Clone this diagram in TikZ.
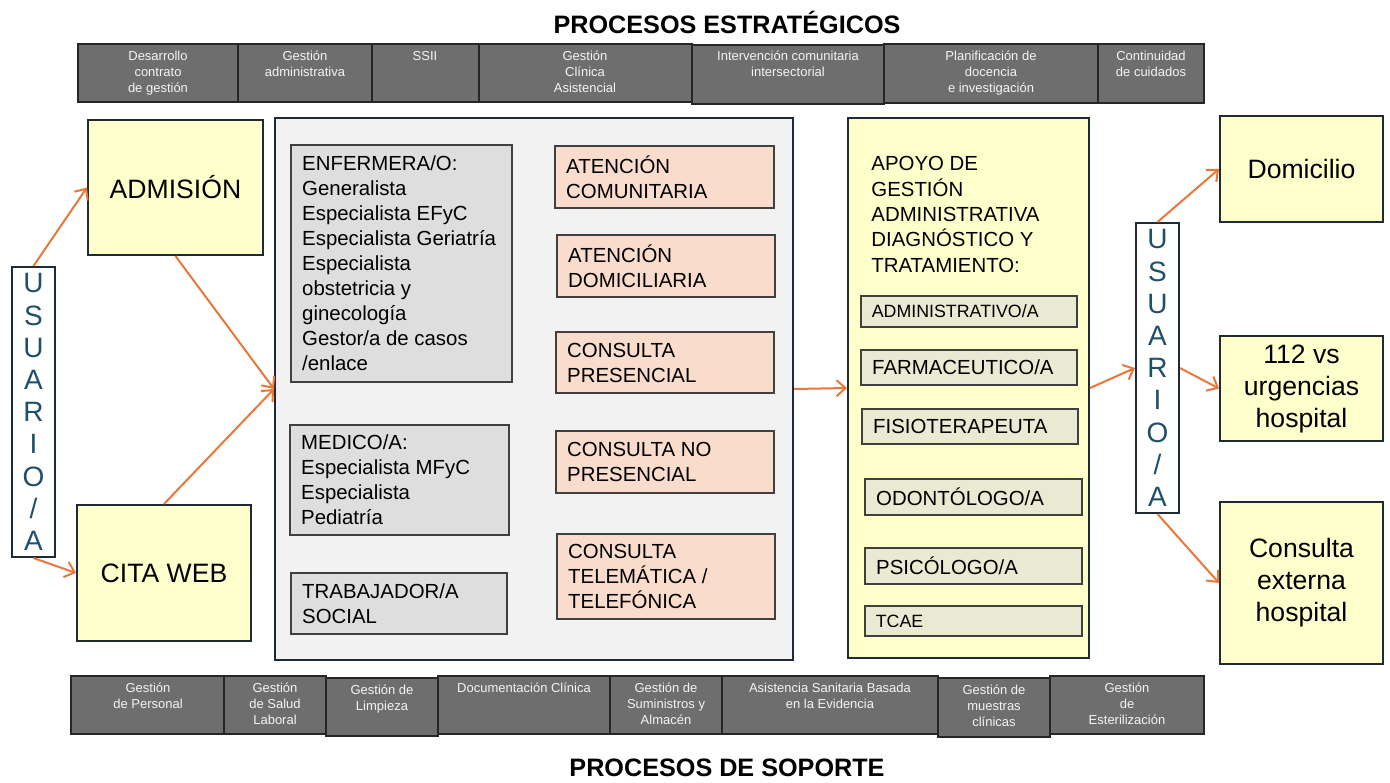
\documentclass[tikz,border=0pt]{standalone}
\usepackage{fontspec}
\setmainfont{Liberation Sans}
\usetikzlibrary{arrows.meta,fit}
\definecolor{orng}{HTML}{E9773A}
\definecolor{navy}{HTML}{1E2A36}
\definecolor{ylw}{HTML}{FFFFCC}
\definecolor{lgray}{HTML}{F2F2F2}
\definecolor{gfill}{HTML}{DEDEDE}
\definecolor{gline}{HTML}{404040}
\definecolor{salmon}{HTML}{F9DCCB}
\definecolor{beige}{HTML}{EAEAD2}
\definecolor{barfill}{HTML}{6E6E6E}
\definecolor{barline}{HTML}{262626}
\definecolor{bartxt}{HTML}{F4F4F4}
\definecolor{uteal}{HTML}{1F5068}
\begin{document}
\begin{tikzpicture}[x=0.5pt,y=-0.5pt,
  barcell/.style={draw=barline, fill=barfill, line width=0.7pt, inner sep=0pt},
  bartext/.style={text=bartxt, font=\fontsize{6.5}{8}\selectfont, align=center, anchor=north, inner sep=0pt},
  ybox/.style={draw=navy, fill=ylw, line width=1pt, inner sep=0pt},
  bigbox/.style={draw=navy, fill=lgray, line width=1pt, inner sep=0pt},
  gbox/.style={draw=gline, fill=gfill, line width=0.6pt, inner sep=0pt},
  sbox/.style={draw=gline, fill=salmon, line width=0.6pt, inner sep=0pt},
  abox/.style={draw=gline, fill=beige, line width=0.6pt, inner sep=0pt},
  ubox/.style={draw=navy, fill=white, line width=1pt, inner sep=0pt},
  mtxt/.style={font=\fontsize{10.2}{12.5}\selectfont, align=left, anchor=west, inner sep=0pt, xshift=5.7pt},
  smtxt/.style={font=\fontsize{8.9}{10}\selectfont, align=left, anchor=west, inner sep=0pt, xshift=5.5pt},
  bigtxt/.style={font=\fontsize{13.3}{16}\selectfont, align=center, inner sep=0pt},
  utxt/.style={font=\fontsize{14}{16.1}\selectfont, text=uteal, align=center, inner sep=0pt},
  ttl/.style={font=\fontsize{12.6}{14}\selectfont\bfseries, inner sep=0pt},
  arr/.style={draw=orng, line width=1pt, -{Straight Barb[length=4.5pt,width=8pt]}}
]
\useasboundingbox (0,0) rectangle (1390,782);

% titles
\node[ttl] (t1) at (727,22) {PROCESOS ESTRATÉGICOS};
\node[ttl] (t2) at (727,768) {PROCESOS DE SOPORTE};

% top bar
\node[barcell, fit={(78,44)(238,102)}] (c1) {};
\node[barcell, fit={(238,44)(372,102)}] (c2) {};
\node[barcell, fit={(372,44)(479,102)}] (c3) {};
\node[barcell, fit={(479,44)(692,102)}] (c4) {};
\node[barcell, fit={(692,45)(884,104)}] (c5) {};
\node[barcell, fit={(884,44)(1098,103)}] (c6) {};
\node[barcell, fit={(1098,44)(1204,103)}] (c7) {};
\node[bartext] (c1t) at (158,51) {Desarrollo\\contrato\\de gestión};
\node[bartext] (c2t) at (305,51) {Gestión\\administrativa};
\node[bartext] (c3t) at (425,51) {SSII};
\node[bartext] (c4t) at (585,51) {Gestión\\Clínica\\Asistencial};
\node[bartext] (c5t) at (788,51) {Intervención comunitaria\\intersectorial};
\node[bartext] (c6t) at (991,51) {Planificación de\\docencia\\e investigación};
\node[bartext] (c7t) at (1151,51) {Continuidad\\de cuidados};

% bottom bar
\node[barcell, fit={(71,676)(224,734)}] (b1) {};
\node[barcell, fit={(224,676)(326,734)}] (b2) {};
\node[barcell, fit={(326,678)(438,736)}] (b3) {};
\node[barcell, fit={(438,676)(610,734)}] (b4) {};
\node[barcell, fit={(610,676)(722,734)}] (b5) {};
\node[barcell, fit={(722,676)(938,734)}] (b6) {};
\node[barcell, fit={(938,678)(1050,737)}] (b7) {};
\node[barcell, fit={(1050,676)(1204,734)}] (b8) {};
\node[bartext] (b1t) at (148,683) {Gestión\\de Personal};
\node[bartext] (b2t) at (275,683) {Gestión\\de Salud\\Laboral};
\node[bartext] (b3t) at (382,685) {Gestión de\\Limpieza};
\node[bartext] (b4t) at (524,683) {Documentación Clínica};
\node[bartext] (b5t) at (666,683) {Gestión de\\Suministros y\\Almacén};
\node[bartext] (b6t) at (830,683) {Asistencia Sanitaria Basada\\en la Evidencia};
\node[bartext] (b7t) at (994,685) {Gestión de\\muestras\\clínicas};
\node[bartext] (b8t) at (1127,683) {Gestión\\de\\Esterilización};

% left side
\node[ubox, fit={(12,267)(55,557)}] (uL) {};
\node[utxt] (uLt) at (uL.center) {U\\S\\U\\A\\R\\I\\O\\/\\A};
\node[ybox, fit={(88,120)(263,255)}] (adm) {};
\node[bigtxt] (admt) at (adm.center) {ADMISIÓN};
\node[ybox, fit={(77,505)(251,641)}] (cita) {};
\node[bigtxt] (citat) at (cita.center) {CITA WEB};

% central box
\node[bigbox, fit={(275,118)(793,660)}] (big) {};
\node[gbox, fit={(291,145)(512,382)}] (enf) {};
\node[mtxt] (enft) at (enf.west) {ENFERMERA/O:\\Generalista\\Especialista EFyC\\Especialista Geriatría\\Especialista\\obstetricia y\\ginecología\\Gestor/a de casos\\/enlace};
\node[gbox, fit={(290,425)(509,535)}] (med) {};
\node[mtxt] (medt) at (med.west) {MEDICO/A:\\Especialista MFyC\\Especialista\\Pediatría};
\node[gbox, fit={(291,573)(507,634)}] (tra) {};
\node[mtxt] (trat) at (tra.west) {TRABAJADOR/A\\SOCIAL};

\node[sbox, fit={(555,146)(774,208)}] (s1) {};
\node[mtxt] (s1t) at (s1.west) {ATENCIÓN\\COMUNITARIA};
\node[sbox, fit={(557,235)(775,297)}] (s2) {};
\node[mtxt] (s2t) at (s2.west) {ATENCIÓN\\DOMICILIARIA};
\node[sbox, fit={(556,332)(774,393)}] (s3) {};
\node[mtxt] (s3t) at (s3.west) {CONSULTA\\PRESENCIAL};
\node[sbox, fit={(556,431)(774,493)}] (s4) {};
\node[mtxt] (s4t) at (s4.west) {CONSULTA NO\\PRESENCIAL};
\node[sbox, fit={(557,534)(775,619)}] (s5) {};
\node[mtxt] (s5t) at (s5.west) {CONSULTA\\TELEMÁTICA /\\TELEFÓNICA};

% apoyo box
\node[ybox, fit={(848,118)(1089,658)}] (apo) {};
\node[font=\fontsize{10.2}{12.7}\selectfont, align=left, anchor=north west, inner sep=0pt] (apot) at (871,156) {APOYO DE\\GESTIÓN\\ADMINISTRATIVA\\DIAGNÓSTICO Y\\TRATAMIENTO:};
\node[abox, fit={(861,296)(1077,327)}] (a1) {};
\node[smtxt] (a1t) at (a1.west) {ADMINISTRATIVO/A};
\node[abox, fit={(861,350)(1077,385)}] (a2) {};
\node[mtxt] (a2t) at (a2.west) {FARMACEUTICO/A};
\node[abox, fit={(862,409)(1078,444)}] (a3) {};
\node[mtxt] (a3t) at (a3.west) {FISIOTERAPEUTA};
\node[abox, fit={(865,479)(1082,515)}] (a4) {};
\node[mtxt] (a4t) at (a4.west) {ODONTÓLOGO/A};
\node[abox, fit={(865,548)(1082,584)}] (a5) {};
\node[mtxt] (a5t) at (a5.west) {PSICÓLOGO/A};
\node[abox, fit={(865,606)(1082,636)}] (a6) {};
\node[smtxt] (a6t) at (a6.west) {TCAE};

% right side
\node[ubox, fit={(1136,223)(1179,513)}] (uR) {};
\node[utxt] (uRt) at (uR.center) {U\\S\\U\\A\\R\\I\\O\\/\\A};
\node[ybox, fit={(1220,116)(1383,222)}] (dom) {};
\node[bigtxt] (domt) at (dom.center) {Domicilio};
\node[ybox, fit={(1220,336)(1383,441)}] (urg) {};
\node[bigtxt] (urgt) at (urg.center) {112 vs\\urgencias\\hospital};
\node[ybox, fit={(1220,502)(1383,664)}] (ext) {};
\node[bigtxt] (extt) at (ext.center) {Consulta\\externa\\hospital};

% arrows
\draw[arr] (uL.north) -- (adm.west);
\draw[arr] (uL.south) -- (cita.west);
\draw[arr] (adm.south) -- (big.west);
\draw[arr] (cita.north) -- (big.west);
\draw[arr] (big.east) -- (apo.west);
\draw[arr] (apo.east) -- (uR.west);
\draw[arr] (uR.north) -- (dom.west);
\draw[arr] (uR.east) -- (urg.west);
\draw[arr] (uR.south) -- (ext.west);
\end{tikzpicture}
\end{document}
